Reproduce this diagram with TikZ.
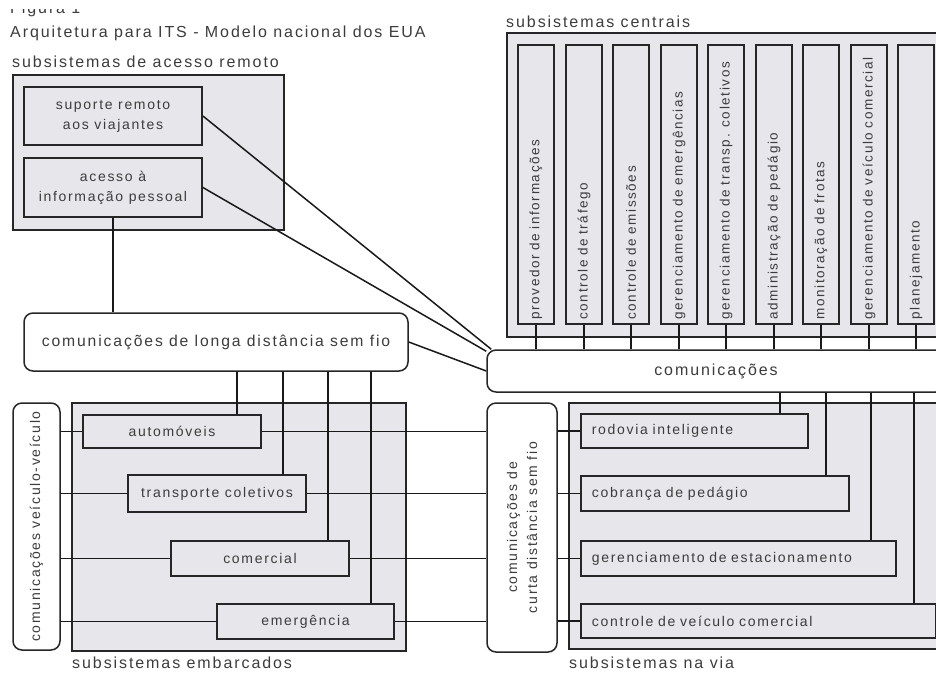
\documentclass[tikz,border=0pt]{standalone}
\usepackage{fontspec}
\setmainfont{Liberation Sans}[LetterSpace=12]
\definecolor{boxgray}{RGB}{230,230,235}
\definecolor{ink}{RGB}{60,60,60}
\begin{document}
\begin{tikzpicture}[x=1pt, y=-1pt, font=\fontsize{14}{20}\selectfont, text=ink,
  region/.style = {draw=black!85, line width=1.5pt, fill=boxgray},
  box/.style = {draw=black!85, line width=1.8pt, fill=boxgray, minimum width=#1, minimum height=35, inner sep=0pt, align=center},
  cbox/.style = {draw=black!85, line width=1.8pt, fill=boxgray, rotate=90, minimum height=36, text width=270, inner xsep=4.5, inner ysep=0pt, align=left, font=\fontsize{13.5}{20}\selectfont},
  rbox/.style = {draw=black!85, line width=1.8pt, fill=boxgray, anchor=west, minimum height=35, inner xsep=11, inner ysep=0pt, text width=#1, align=left},
  comm/.style = {draw=black!85, line width=1.5pt, fill=white, rounded corners=9, inner sep=0pt, align=center},
  lbl/.style = {anchor=west, inner sep=0pt, font=\fontsize{16}{20}\selectfont},
  link/.style = {draw=black!90, line width=1.5pt}]
\useasboundingbox (0,0) rectangle (936,673);
\begin{scope}
\clip (0,9) rectangle (200,30);
\node[lbl] (fig) at (10,9) {Figura 1};
\end{scope}
\node[lbl] (title) at (10,33) {Arquitetura para ITS - Modelo nacional dos EUA};
\node[lbl] (remote) at (12,62) {subsistemas de acesso remoto};
\node[lbl] (central) at (506,22) {subsistemas centrais};
\node[lbl] (embarked) at (72,663) {subsistemas embarcados};
\node[lbl] (roadside) at (569,663) {subsistemas na via};
\draw[region] (13,75) rectangle (284,230);
\draw[region] (507,33) rectangle (960,337);
\draw[region] (72,403) rectangle (406,651);
\draw[region] (569,403) rectangle (960,649);
\node[box=178, minimum height=58] (sup) at (113,116) {suporte remoto\\aos viajantes};
\node[box=178, minimum height=59] (acc) at (113,187.5) {acesso à\\informação pessoal};
\node[comm, minimum width=384, minimum height=58, font=\fontsize{15.7}{20}\selectfont] (ld) at (216,342) {comunicações de longa distância sem fio};
\node[comm, minimum width=458, minimum height=42, font=\fontsize{16}{20}\selectfont] (com) at (716,371) {comunicações};
\node[comm, rotate=90, minimum width=247, minimum height=47] (vv) at (36.5,526.5) {comunicações veículo-veículo};
\node[comm, rotate=90, minimum width=249, minimum height=70] (sr) at (522,527.5) {comunicações de\\curta distância sem fio};
\node[cbox] (c1) at (536,184.5) {provedor de informações};
\node[cbox] (c2) at (584,184.5) {controle de tráfego};
\node[cbox] (c3) at (631,184.5) {controle de emissões};
\node[cbox] (c4) at (679,184.5) {gerenciamento de emergências};
\node[cbox] (c5) at (726,184.5) {gerenciamento de transp. coletivos};
\node[cbox] (c6) at (774,184.5) {administração de pedágio};
\node[cbox] (c7) at (821,184.5) {monitoração de frotas};
\node[cbox] (c8) at (869,184.5) {gerenciamento de veículo comercial};
\node[cbox] (c9) at (916,184.5) {planejamento};
\node[box=178, minimum height=33] (auto) at (172,431.5) {automóveis};
\node[box=178, minimum height=37] (bus) at (217,493.5) {transporte coletivos};
\node[box=178] (truck) at (260,558.5) {comercial};
\node[box=177] (emerg) at (305.5,621.5) {emergência};
\node[rbox=205, minimum height=34] (hwy) at (580,431) {rodovia inteligente};
\node[rbox=246] (toll) at (580,493.5) {cobrança de pedágio};
\node[rbox=293] (park) at (580,558.5) {gerenciamento de estacionamento};
\node[rbox=333, minimum height=34] (cvo) at (580,621) {controle de veículo comercial};
\draw[link] (acc.south) -- (acc.south |- ld.north);
\draw[link] (sup.east) -- ([xshift=5]com.north west);
\draw[link] (acc.east) -- ([yshift=-2]com.north west);
\draw[link] (ld.east) -- (com.west);
\draw[link] (c1.west) -- (c1.west |- com.north);
\draw[link] (c2.west) -- (c2.west |- com.north);
\draw[link] (c3.west) -- (c3.west |- com.north);
\draw[link] (c4.west) -- (c4.west |- com.north);
\draw[link] (c5.west) -- (c5.west |- com.north);
\draw[link] (c6.west) -- (c6.west |- com.north);
\draw[link] (c7.west) -- (c7.west |- com.north);
\draw[link] (c8.west) -- (c8.west |- com.north);
\draw[link] (c9.west) -- (c9.west |- com.north);
\draw[link] ([xshift=21]ld.south) -- ([xshift=21]ld.south |- auto.north);
\draw[link] ([xshift=67]ld.south) -- ([xshift=67]ld.south |- bus.north);
\draw[link] ([xshift=112]ld.south) -- ([xshift=112]ld.south |- truck.north);
\draw[link] ([xshift=155]ld.south) -- ([xshift=155]ld.south |- emerg.north);
\draw[link] ([xshift=64]com.south) -- ([xshift=64]com.south |- hwy.north);
\draw[link] ([xshift=110]com.south) -- ([xshift=110]com.south |- toll.north);
\draw[link] ([xshift=155]com.south) -- ([xshift=155]com.south |- park.north);
\draw[link] ([xshift=198]com.south) -- ([xshift=198]com.south |- cvo.north);
\draw[link] (vv.south |- auto.west) -- (auto.west);
\draw[link] (vv.south |- bus.west) -- (bus.west);
\draw[link] (vv.south |- truck.west) -- (truck.west);
\draw[link] (vv.south |- emerg.west) -- (emerg.west);
\draw[link] (auto.east) -- (auto.east -| sr.north);
\draw[link] (bus.east) -- (bus.east -| sr.north);
\draw[link] (truck.east) -- (truck.east -| sr.north);
\draw[link] (emerg.east) -- (emerg.east -| sr.north);
\draw[link] (sr.south |- hwy.west) -- (hwy.west);
\draw[link] (sr.south |- toll.west) -- (toll.west);
\draw[link] (sr.south |- park.west) -- (park.west);
\draw[link] (sr.south |- cvo.west) -- (cvo.west);
\end{tikzpicture}
\end{document}
